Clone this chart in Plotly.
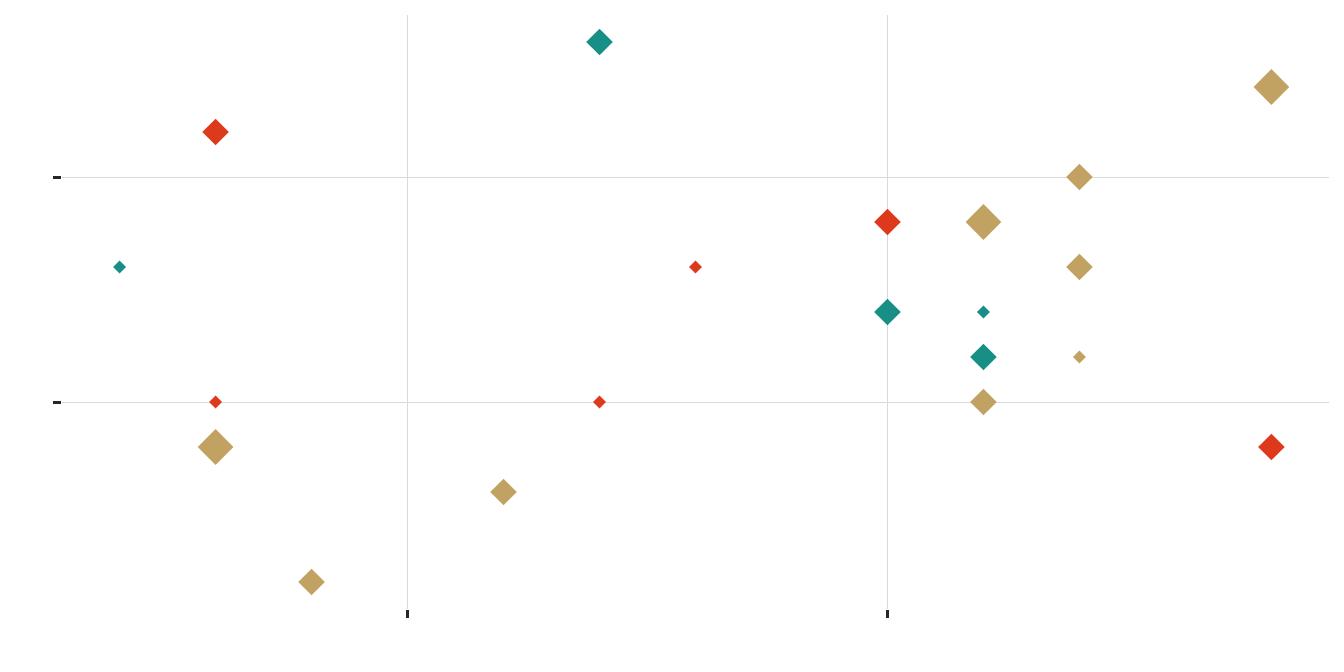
import plotly.graph_objects as go

# data
teal_x = [7, 2, 10, 11, 11]
teal_y = [13, 8, 7, 7, 6]
teal_w = [2, 1, 2, 1, 2]

red_x = [3, 8, 10, 3, 7, 14]
red_y = [11, 8, 9, 5, 5, 4]
red_w = [2, 1, 2, 1, 1, 2]

tan_x = [14, 12, 11, 12, 12, 11, 3, 6, 4]
tan_y = [12, 10, 9, 8, 6, 5, 4, 3, 1]
tan_w = [3, 2, 3, 2, 1, 2, 3, 2, 2]

COLORS = {
    "teal": "#178f87",
    "red": "#dd3a1c",
    "tan": "#c2a262",
    "grid": "#dadada",
    "tick": "#262626",
}
SIZE_PX = {1: 10, 2: 20.5, 3: 27.5}

fig = go.Figure()
for xs, ys, ws, c in [(teal_x, teal_y, teal_w, "teal"),
                      (red_x, red_y, red_w, "red"),
                      (tan_x, tan_y, tan_w, "tan")]:
    fig.add_trace(go.Scatter(
        x=xs, y=ys, mode="markers", showlegend=False,
        marker=dict(symbol="diamond", color=COLORS[c], opacity=1,
                    size=[SIZE_PX[w] for w in ws], line_width=0),
    ))

axis_style = dict(
    showgrid=True, gridcolor=COLORS["grid"], gridwidth=1,
    zeroline=False, showline=False, showticklabels=False,
    ticks="outside", ticklen=8, tickwidth=2.5, tickcolor=COLORS["tick"],
    tick0=0, dtick=5,
)
fig.update_xaxes(range=[1.4, 14.6], **axis_style)
fig.update_yaxes(range=[0.4, 13.6], **axis_style)

# page body adds 8px, so margins are shifted to keep the plot area in place
fig.update_layout(
    width=1344, height=672,
    margin=dict(l=54, r=23, t=7, b=71),
    plot_bgcolor="white", paper_bgcolor="white",
)

fig.write_html("out.html")
